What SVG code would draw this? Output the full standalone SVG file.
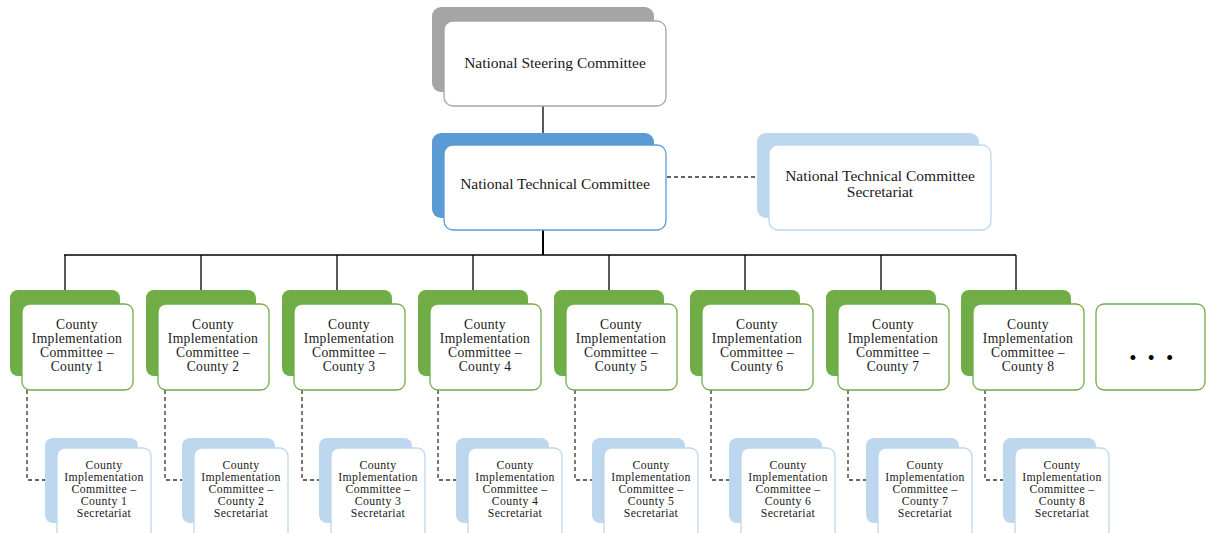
<svg xmlns="http://www.w3.org/2000/svg" width="1206" height="533" viewBox="0 0 1206 533">
  <style>
    .bg { fill: #ffffff; }
    .back-grey { fill: #a5a5a5; }
    .back-blue { fill: #5b9bd5; }
    .back-lblue { fill: #bdd7ee; }
    .back-green { fill: #70ad47; }
    .front { fill: #ffffff; stroke-width: 1.3; }
    .b-grey { stroke: #a5a5a5; }
    .b-blue { stroke: #5b9bd5; }
    .b-lblue { stroke: #bdd7ee; }
    .b-green { stroke: #70ad47; }
    .lbl { font-family: "Liberation Serif", "Times New Roman", serif; fill: #1a1a1a; text-anchor: middle; }
    .big { font-size: 15.5px; }
    .mid { font-size: 13.6px; letter-spacing: 0.3px; }
    .small { font-size: 11.8px; letter-spacing: 0.35px; }
    .solid { stroke: #000000; stroke-width: 1.3; fill: none; }
    .dash { stroke: #333333; stroke-width: 1.3; fill: none; stroke-dasharray: 4 3; }
  </style>
  <rect class="bg" x="0" y="0" width="1206" height="533"/>

  <!-- connectors -->
  <g id="connectors">
    <line class="solid" x1="543" y1="106" x2="543" y2="133"/>
    <line class="solid" x1="543" y1="230" x2="543" y2="255" style="stroke-width:2"/>
    <line class="solid" x1="64" y1="255" x2="1016" y2="255"/>
    <line class="solid" x1="65" y1="255" x2="65" y2="290"/>
    <line class="solid" x1="201" y1="255" x2="201" y2="290"/>
    <line class="solid" x1="337" y1="255" x2="337" y2="290"/>
    <line class="solid" x1="473" y1="255" x2="473" y2="290"/>
    <line class="solid" x1="609" y1="255" x2="609" y2="290"/>
    <line class="solid" x1="745" y1="255" x2="745" y2="290"/>
    <line class="solid" x1="881" y1="255" x2="881" y2="290"/>
    <line class="solid" x1="1016" y1="255" x2="1016" y2="290"/>
    <line class="dash" x1="667" y1="177" x2="757" y2="177"/>
    <polyline class="dash" points="27,390 27,480 45,480"/>
    <polyline class="dash" points="165,390 165,480 182,480"/>
    <polyline class="dash" points="302,390 302,480 319,480"/>
    <polyline class="dash" points="438,390 438,480 456,480"/>
    <polyline class="dash" points="575,390 575,480 592,480"/>
    <polyline class="dash" points="711,390 711,480 729,480"/>
    <polyline class="dash" points="848,390 848,480 866,480"/>
    <polyline class="dash" points="985,390 985,480 1003,480"/>
  </g>

  <!-- national level -->
  <g id="national-steering">
    <rect class="back-grey" x="432" y="7" width="222" height="85" rx="9"/>
    <rect class="front b-grey" x="444" y="21" width="222" height="85" rx="9"/>
    <text class="lbl big" x="555" y="68">National Steering Committee</text>
  </g>
  <g id="national-technical">
    <rect class="back-blue" x="432" y="133" width="222" height="85" rx="9"/>
    <rect class="front b-blue" x="444" y="145" width="222" height="85" rx="9"/>
    <text class="lbl big" x="555" y="189">National Technical Committee</text>
  </g>
  <g id="national-technical-secretariat">
    <rect class="back-lblue" x="757" y="133" width="222" height="85" rx="9"/>
    <rect class="front b-lblue" x="769" y="145" width="222" height="85" rx="9"/>
    <text class="lbl big" x="880" y="181">National Technical Committee</text>
    <text class="lbl big" x="880" y="197">Secretariat</text>
  </g>

  <!-- county committees -->
  <g id="county-1">
    <rect class="back-green" x="10" y="290" width="110" height="86" rx="8"/>
    <rect class="front b-green" x="22" y="304" width="111" height="86" rx="8"/>
    <text class="lbl mid" x="77" y="329">County</text>
    <text class="lbl mid" x="77" y="343">Implementation</text>
    <text class="lbl mid" x="77" y="357">Committee –</text>
    <text class="lbl mid" x="77" y="371">County 1</text>
  </g>
  <g id="county-2">
    <rect class="back-green" x="146" y="290" width="110" height="86" rx="8"/>
    <rect class="front b-green" x="158" y="304" width="111" height="86" rx="8"/>
    <text class="lbl mid" x="213" y="329">County</text>
    <text class="lbl mid" x="213" y="343">Implementation</text>
    <text class="lbl mid" x="213" y="357">Committee –</text>
    <text class="lbl mid" x="213" y="371">County 2</text>
  </g>
  <g id="county-3">
    <rect class="back-green" x="282" y="290" width="110" height="86" rx="8"/>
    <rect class="front b-green" x="294" y="304" width="111" height="86" rx="8"/>
    <text class="lbl mid" x="349" y="329">County</text>
    <text class="lbl mid" x="349" y="343">Implementation</text>
    <text class="lbl mid" x="349" y="357">Committee –</text>
    <text class="lbl mid" x="349" y="371">County 3</text>
  </g>
  <g id="county-4">
    <rect class="back-green" x="418" y="290" width="110" height="86" rx="8"/>
    <rect class="front b-green" x="430" y="304" width="111" height="86" rx="8"/>
    <text class="lbl mid" x="485" y="329">County</text>
    <text class="lbl mid" x="485" y="343">Implementation</text>
    <text class="lbl mid" x="485" y="357">Committee –</text>
    <text class="lbl mid" x="485" y="371">County 4</text>
  </g>
  <g id="county-5">
    <rect class="back-green" x="554" y="290" width="110" height="86" rx="8"/>
    <rect class="front b-green" x="566" y="304" width="111" height="86" rx="8"/>
    <text class="lbl mid" x="621" y="329">County</text>
    <text class="lbl mid" x="621" y="343">Implementation</text>
    <text class="lbl mid" x="621" y="357">Committee –</text>
    <text class="lbl mid" x="621" y="371">County 5</text>
  </g>
  <g id="county-6">
    <rect class="back-green" x="690" y="290" width="110" height="86" rx="8"/>
    <rect class="front b-green" x="702" y="304" width="111" height="86" rx="8"/>
    <text class="lbl mid" x="757" y="329">County</text>
    <text class="lbl mid" x="757" y="343">Implementation</text>
    <text class="lbl mid" x="757" y="357">Committee –</text>
    <text class="lbl mid" x="757" y="371">County 6</text>
  </g>
  <g id="county-7">
    <rect class="back-green" x="826" y="290" width="110" height="86" rx="8"/>
    <rect class="front b-green" x="838" y="304" width="111" height="86" rx="8"/>
    <text class="lbl mid" x="893" y="329">County</text>
    <text class="lbl mid" x="893" y="343">Implementation</text>
    <text class="lbl mid" x="893" y="357">Committee –</text>
    <text class="lbl mid" x="893" y="371">County 7</text>
  </g>
  <g id="county-8">
    <rect class="back-green" x="961" y="290" width="110" height="86" rx="8"/>
    <rect class="front b-green" x="973" y="304" width="111" height="86" rx="8"/>
    <text class="lbl mid" x="1028" y="329">County</text>
    <text class="lbl mid" x="1028" y="343">Implementation</text>
    <text class="lbl mid" x="1028" y="357">Committee –</text>
    <text class="lbl mid" x="1028" y="371">County 8</text>
  </g>
  <g id="county-more">
    <rect class="front b-green" x="1096" y="304" width="109" height="86" rx="8"/>
    <text x="1153" y="364" style="font-family:'Liberation Sans',Arial,sans-serif;font-size:18px;letter-spacing:3.5px;text-anchor:middle;fill:#000">• • •</text>
  </g>

  <!-- county secretariats -->
  <g id="secretariat-1">
    <rect class="back-lblue" x="45" y="438" width="93" height="85" rx="8"/>
    <rect class="front b-lblue" x="57" y="448" width="94" height="92" rx="8"/>
    <text class="lbl small" x="104" y="469">County</text>
    <text class="lbl small" x="104" y="481">Implementation</text>
    <text class="lbl small" x="104" y="493">Committee –</text>
    <text class="lbl small" x="104" y="505">County 1</text>
    <text class="lbl small" x="104" y="517">Secretariat</text>
  </g>
  <g id="secretariat-2">
    <rect class="back-lblue" x="182" y="438" width="93" height="85" rx="8"/>
    <rect class="front b-lblue" x="194" y="448" width="94" height="92" rx="8"/>
    <text class="lbl small" x="241" y="469">County</text>
    <text class="lbl small" x="241" y="481">Implementation</text>
    <text class="lbl small" x="241" y="493">Committee –</text>
    <text class="lbl small" x="241" y="505">County 2</text>
    <text class="lbl small" x="241" y="517">Secretariat</text>
  </g>
  <g id="secretariat-3">
    <rect class="back-lblue" x="319" y="438" width="93" height="85" rx="8"/>
    <rect class="front b-lblue" x="331" y="448" width="94" height="92" rx="8"/>
    <text class="lbl small" x="378" y="469">County</text>
    <text class="lbl small" x="378" y="481">Implementation</text>
    <text class="lbl small" x="378" y="493">Committee –</text>
    <text class="lbl small" x="378" y="505">County 3</text>
    <text class="lbl small" x="378" y="517">Secretariat</text>
  </g>
  <g id="secretariat-4">
    <rect class="back-lblue" x="456" y="438" width="93" height="85" rx="8"/>
    <rect class="front b-lblue" x="468" y="448" width="94" height="92" rx="8"/>
    <text class="lbl small" x="515" y="469">County</text>
    <text class="lbl small" x="515" y="481">Implementation</text>
    <text class="lbl small" x="515" y="493">Committee –</text>
    <text class="lbl small" x="515" y="505">County 4</text>
    <text class="lbl small" x="515" y="517">Secretariat</text>
  </g>
  <g id="secretariat-5">
    <rect class="back-lblue" x="592" y="438" width="93" height="85" rx="8"/>
    <rect class="front b-lblue" x="604" y="448" width="94" height="92" rx="8"/>
    <text class="lbl small" x="651" y="469">County</text>
    <text class="lbl small" x="651" y="481">Implementation</text>
    <text class="lbl small" x="651" y="493">Committee –</text>
    <text class="lbl small" x="651" y="505">County 5</text>
    <text class="lbl small" x="651" y="517">Secretariat</text>
  </g>
  <g id="secretariat-6">
    <rect class="back-lblue" x="729" y="438" width="93" height="85" rx="8"/>
    <rect class="front b-lblue" x="741" y="448" width="94" height="92" rx="8"/>
    <text class="lbl small" x="788" y="469">County</text>
    <text class="lbl small" x="788" y="481">Implementation</text>
    <text class="lbl small" x="788" y="493">Committee –</text>
    <text class="lbl small" x="788" y="505">County 6</text>
    <text class="lbl small" x="788" y="517">Secretariat</text>
  </g>
  <g id="secretariat-7">
    <rect class="back-lblue" x="866" y="438" width="93" height="85" rx="8"/>
    <rect class="front b-lblue" x="878" y="448" width="94" height="92" rx="8"/>
    <text class="lbl small" x="925" y="469">County</text>
    <text class="lbl small" x="925" y="481">Implementation</text>
    <text class="lbl small" x="925" y="493">Committee –</text>
    <text class="lbl small" x="925" y="505">County 7</text>
    <text class="lbl small" x="925" y="517">Secretariat</text>
  </g>
  <g id="secretariat-8">
    <rect class="back-lblue" x="1003" y="438" width="93" height="85" rx="8"/>
    <rect class="front b-lblue" x="1015" y="448" width="94" height="92" rx="8"/>
    <text class="lbl small" x="1062" y="469">County</text>
    <text class="lbl small" x="1062" y="481">Implementation</text>
    <text class="lbl small" x="1062" y="493">Committee –</text>
    <text class="lbl small" x="1062" y="505">County 8</text>
    <text class="lbl small" x="1062" y="517">Secretariat</text>
  </g>
</svg>
